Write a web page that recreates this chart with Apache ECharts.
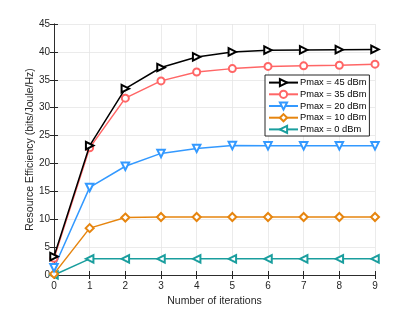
<!DOCTYPE html>
<html><head><meta charset="utf-8">
<script src="https://cdn.jsdelivr.net/npm/echarts@6/dist/echarts.min.js"></script>
<style>html,body{margin:0;padding:0;background:#fff}#c{width:415px;height:312px}</style>
</head><body><div id="c"></div>
<script>
const iterations = [0,1,2,3,4,5,6,7,8,9];
const p45 = [3.3, 23.2, 33.4, 37.2, 39.1, 40.0, 40.3, 40.35, 40.4, 40.45];
const p35 = [3.0, 22.8, 31.7, 34.8, 36.4, 37.0, 37.4, 37.5, 37.6, 37.8];
const p20 = [1.3, 15.7, 19.5, 21.8, 22.7, 23.2, 23.15, 23.15, 23.15, 23.15];
const p10 = [0.2, 8.4, 10.3, 10.4, 10.4, 10.4, 10.4, 10.4, 10.4, 10.4];
const p0  = [0.0, 2.9, 2.9, 2.9, 2.9, 2.9, 2.9, 2.9, 2.9, 2.9];
const names = ['Pmax = 45 dBm','Pmax = 35 dBm','Pmax = 20 dBm','Pmax = 10 dBm','Pmax = 0 dBm'];
const colors = ['#000000','#ff6666','#3399ff','#e6850f','#1a9e9e'];
const symbols = ['emptyTriangle','emptyCircle','emptyTriangle','emptyDiamond','emptyTriangle'];
const rotates = [-90,0,180,0,90];
const sizes = [7.5,7,7.5,8,7.5];
const dataSets = [p45,p35,p20,p10,p0];

const chart = echarts.init(document.getElementById('c'));
const font = 'Liberation Sans, Arial, sans-serif';
const axisCol = '#262626';
const series = dataSets.map((d,i)=>({
  name: names[i], type:'line', data: iterations.map((x,j)=>[x,d[j]]),
  symbol: symbols[i], symbolSize: sizes[i], symbolRotate: rotates[i],
  lineStyle:{color:colors[i], width:1.5}, itemStyle:{color:colors[i], borderWidth:1.3},
  color: colors[i], z: 10-i, animation:false
}));
chart.setOption({
  animation:false,
  textStyle:{fontFamily:font},
  grid:{left:54, right:40, top:24, bottom:34, show:false},
  legend:{
    orient:'vertical', left:265, top:75, data:names,
    backgroundColor:'#fff', borderColor:'#262626', borderWidth:1,
    shadowBlur:0, shadowColor:'rgba(0,0,0,0)', shadowOffsetX:0, shadowOffsetY:0,
    padding:[3,3,2,3], itemGap:2.5, itemWidth:29, itemHeight:9,
    textStyle:{fontSize:9.3, color:'#000', fontFamily:font, padding:[0,0,0,-3]}
  },
  xAxis:[{
    type:'value', min:0, max:9, interval:1,
    name:'Number of iterations', nameLocation:'middle', nameGap:21, nameMoveOverlap:false,
    nameTextStyle:{fontSize:10.5, color:axisCol},
    axisLine:{show:true, lineStyle:{color:axisCol, width:0.8}},
    axisTick:{show:true, inside:true, length:4, lineStyle:{color:axisCol}},
    axisLabel:{fontSize:10, color:axisCol, margin:6},
    splitLine:{show:true, lineStyle:{color:'#e6e6e6', width:0.8}}
  },{
    type:'value', min:0, max:9, interval:1, position:'top',
    axisLine:{show:true, lineStyle:{color:axisCol, width:0.8}},
    axisTick:{show:true, inside:true, length:4, lineStyle:{color:axisCol}},
    axisLabel:{show:false}, splitLine:{show:false}
  }],
  yAxis:[{
    type:'value', min:0, max:45, interval:5,
    name:'Resource Efficiency (bits/Joule/Hz)', nameLocation:'middle', nameGap:18, nameMoveOverlap:false,
    nameTextStyle:{fontSize:10.5, color:axisCol},
    axisLine:{show:true, lineStyle:{color:axisCol, width:0.8}},
    axisTick:{show:true, inside:true, length:4, lineStyle:{color:axisCol}},
    axisLabel:{fontSize:10, color:axisCol, margin:4},
    splitLine:{show:true, lineStyle:{color:'#e6e6e6', width:0.8}}
  },{
    type:'value', min:0, max:45, interval:5, position:'right',
    axisLine:{show:true, lineStyle:{color:axisCol, width:0.8}},
    axisTick:{show:true, inside:true, length:4, lineStyle:{color:axisCol}},
    axisLabel:{show:false}, splitLine:{show:false}
  }],
  series: series
});
</script></body></html>
